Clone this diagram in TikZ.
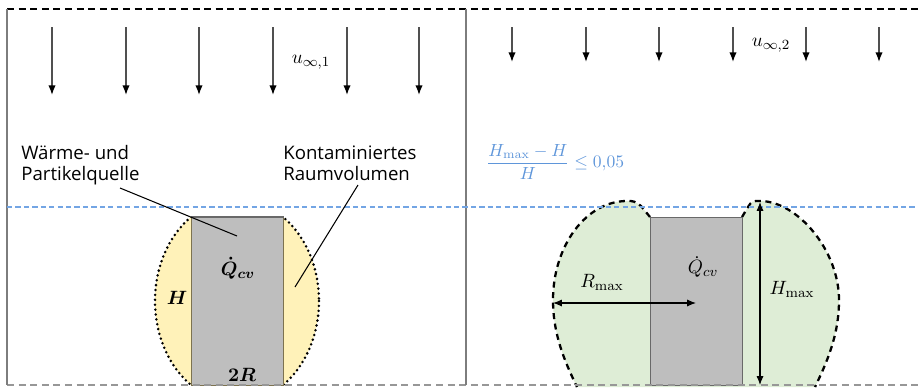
\documentclass[tikz,border=0pt]{standalone}
\usepackage[no-math]{fontspec}
\usepackage{amsmath,bm}
\usetikzlibrary{arrows.meta}
\newfontfamily\labfont{Open Sans}
\definecolor{frame}{RGB}{125,125,125}
\definecolor{bluel}{RGB}{115,165,228}
\definecolor{bluet}{RGB}{95,150,218}
\definecolor{yellowf}{RGB}{255,242,185}
\definecolor{greenf}{RGB}{222,237,214}
\definecolor{grayf}{RGB}{190,190,190}
\definecolor{grayd}{RGB}{105,105,105}
\definecolor{olive}{RGB}{125,115,80}
\definecolor{arrowc}{RGB}{80,80,80}
\tikzset{
  flow/.style={draw=arrowc,line width=0.8pt,-{Latex[length=5.5pt,width=4.2pt,color=black]}},
  lab/.style={font=\labfont\fontsize{10.6}{12.2}\selectfont,align=left,inner sep=0pt},
  mlab/.style={font=\fontsize{11}{13}\selectfont,inner sep=0pt},
  leader/.style={draw=black,line width=0.6pt},
  topdash/.style={draw=black,line width=0.8pt,dash pattern=on 4pt off 2.6pt},
  botdash/.style={draw=frame!80,line width=0.8pt,dash pattern=on 4pt off 2.6pt},
  bluedash/.style={draw=bluel,line width=1.1pt,dash pattern=on 3pt off 1.8pt},
  dotline/.style={draw=black,line width=1.6pt,dash pattern=on 0pt off 2.8pt,line cap=round},
  plume/.style={draw=black,line width=1.3pt,dash pattern=on 3.4pt off 2.6pt},
  dim/.style={draw=black,line width=0.6pt,{Latex[length=5pt,width=4pt]}-{Latex[length=5pt,width=4pt]}}
}
\begin{document}
\begin{tikzpicture}[x=0.02cm,y=-0.02cm]
\useasboundingbox (0,0) rectangle (918,389);
% ---------- left panel fills ----------
\begin{scope}
  \clip (140,217) rectangle (191,385);
  \fill[yellowf] (237,301) ellipse [x radius=82,y radius=101.5];
  \draw[dotline] (237,301) ellipse [x radius=82,y radius=101.5];
\end{scope}
\begin{scope}
  \clip (283,217) rectangle (335,385);
  \fill[yellowf] (237,301) ellipse [x radius=82,y radius=101.5];
  \draw[dotline] (237,301) ellipse [x radius=82,y radius=101.5];
\end{scope}
\node[draw=olive,fill=grayf,line width=0.7pt,minimum width=92*0.02cm,minimum height=168*0.02cm,inner sep=0pt,anchor=north west] (srcL) at (191,217) {};
\draw[draw=grayd,line width=0.7pt] (srcL.north west) -- (srcL.north east);
% ---------- right panel fills ----------
\fill[greenf] (577,387) .. controls (565,362) and (553,335) .. (553,300)
  .. controls (553,246) and (586,201) .. (627,201)
  .. controls (634,201) .. (641,206) -- (650,217) -- (742,217) -- (748,207)
  .. controls (752,201) .. (760,201)
  .. controls (797,201) and (839,250) .. (839,300)
  .. controls (839,335) and (827,362) .. (815,387) -- cycle;
\draw[plume] (650,217) -- (641,206) .. controls (634,201) .. (627,201)
  .. controls (586,201) and (553,246) .. (553,300)
  .. controls (553,335) and (565,362) .. (577,387);
\draw[plume] (742,217) -- (748,207) .. controls (752,201) .. (760,201)
  .. controls (797,201) and (839,250) .. (839,300)
  .. controls (839,335) and (827,362) .. (815,387);
\node[draw=grayd,fill=grayf,line width=0.7pt,minimum width=92*0.02cm,minimum height=168*0.02cm,inner sep=0pt,anchor=north west] (srcR) at (650,217) {};
% ---------- frame ----------
\draw[topdash] (7,9) -- (918,9);
\draw[botdash] (7,385) -- (918,385);
\draw[frame,line width=1pt] (7,9) -- (7,385);
\draw[frame,line width=1pt] (466,9) -- (466,385);
\draw[bluedash] (7,207) -- (918,207);
% ---------- flow arrows ----------
\foreach \x [count=\i] in {52,126,199,273,347,419} {
  \coordinate (a\i s) at (\x,27); \coordinate (a\i e) at (\x,95);
  \draw[flow] (a\i s) -- (a\i e);
}
\foreach \x [count=\i] in {512,586,659,733,806,879} {
  \coordinate (b\i s) at (\x,27); \coordinate (b\i e) at (\x,62);
  \draw[flow] (b\i s) -- (b\i e);
}
\node[mlab] (u1) at (311,62) {$u_{\infty,1}$};
\node[mlab] (u2) at (771,45) {$u_{\infty,2}$};
% ---------- left labels ----------
\node[lab,anchor=north west] (waerme) at (21,145) {Wärme- und\\Partikelquelle};
\node[lab,anchor=north west] (konta) at (283,145) {Kontaminiertes\\Raumvolumen};
\coordinate (wstart) at (120,188);
\coordinate (wend) at (237,236);
\coordinate (kstart) at (358,185);
\coordinate (kend) at (295,287);
\draw[leader] (wstart) -- (wend);
\draw[leader] (kstart) -- (kend);
\node[mlab] (qL) at (238,268) {$\bm{\dot{Q}_{cv}}$};
\node[mlab] (hL) at (177,298) {$\bm{H}$};
\node[mlab] (rL) at (242,375) {$\bm{2R}$};
% ---------- right labels ----------
\node[mlab,font=\fontsize{10.4}{12}\selectfont,text=bluet,anchor=west] (crit) at (486,162) {$\dfrac{H_{\max}-H}{H}\leq 0{,}05$};
\node[mlab] (qR) at (703,267) {$\dot{Q}_{cv}$};
\node[mlab] (rmax) at (602,282) {$R_{\max}$};
\node[mlab] (hmax) at (792,289) {$H_{\max}$};
\coordinate (rs) at (553,303);
\coordinate (re) at (696,303);
\coordinate (hs) at (760,202);
\coordinate (he) at (760,385);
\draw[dim] (rs) -- (re);
\draw[dim] (hs) -- (he);
\end{tikzpicture}
\end{document}
